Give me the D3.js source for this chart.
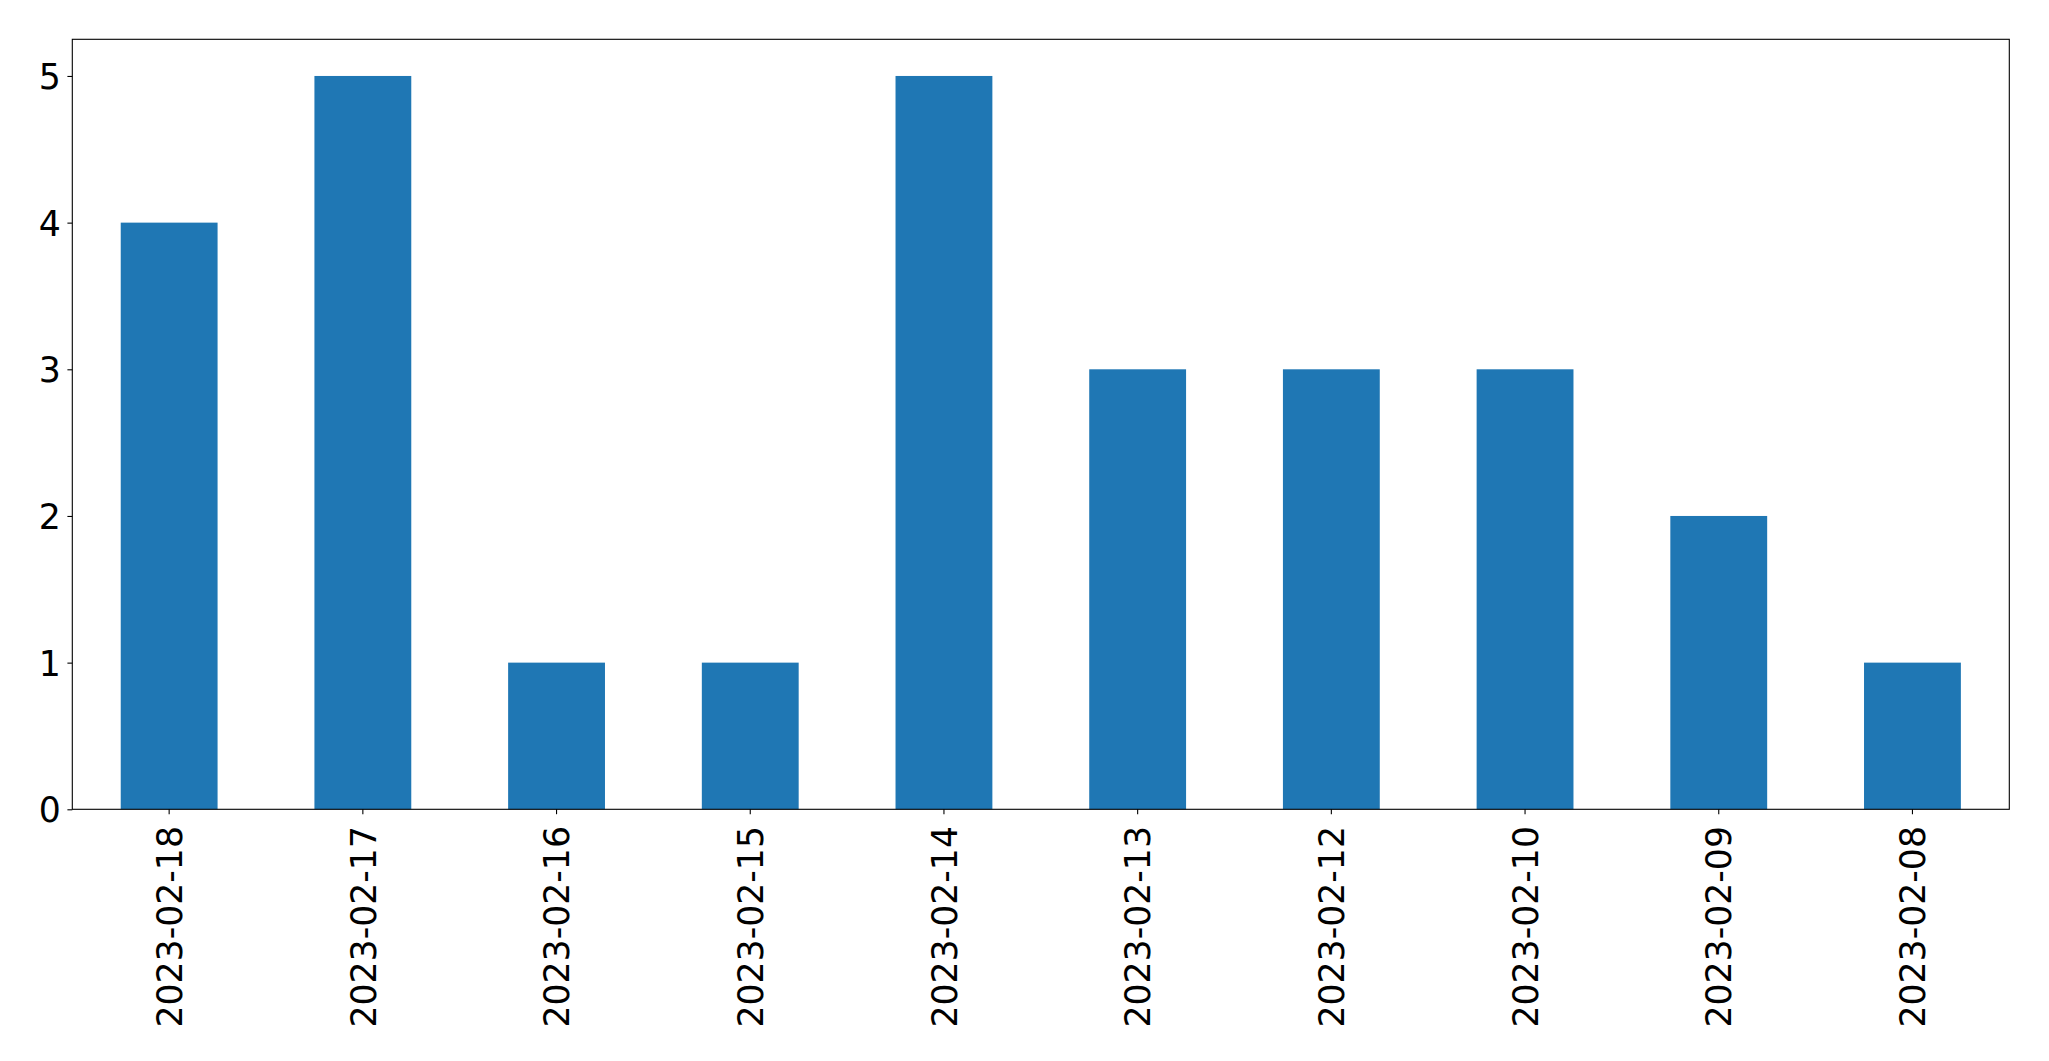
<!DOCTYPE html>
<html>
<head>
<meta charset="utf-8">
<script src="https://cdn.jsdelivr.net/npm/d3@7"></script>
<style>
  html, body { margin: 0; padding: 0; background: #fff; }
  svg { display: block; }
</style>
</head>
<body>
<svg id="chart" width="2049" height="1061"></svg>
<script>
const categories = ["2023-02-18","2023-02-17","2023-02-16","2023-02-15","2023-02-14","2023-02-13","2023-02-12","2023-02-10","2023-02-09","2023-02-08"];
const values = [4, 5, 1, 1, 5, 3, 3, 3, 2, 1];
const yTicks = [0, 1, 2, 3, 4, 5];

const W = 2049, H = 1061;
const m = { left: 72.3, top: 39.3, right: 2009.3, bottom: 809.3 };
const fontSize = 34.7;
const font = "'DejaVu Sans', sans-serif";

const svg = d3.select("#chart");
svg.append("rect").attr("width", W).attr("height", H).attr("fill", "#fff");

const x = d3.scaleBand().domain(categories).range([m.left, m.right])
  .paddingInner(0.5).paddingOuter(0.25);
const y = d3.scaleLinear().domain([0, 5.25]).range([m.bottom, m.top]);

svg.append("g").selectAll("rect").data(values).join("rect")
  .attr("x", (d, i) => x(categories[i]))
  .attr("width", x.bandwidth())
  .attr("y", d => y(d))
  .attr("height", d => y(0) - y(d))
  .attr("fill", "#1f77b4");

// spines
svg.append("rect")
  .attr("x", m.left).attr("y", m.top)
  .attr("width", m.right - m.left).attr("height", m.bottom - m.top)
  .attr("fill", "none").attr("stroke", "#000").attr("stroke-width", 1.1);

// y axis
const yAxis = svg.append("g").attr("transform", `translate(${m.left},0)`)
  .call(d3.axisLeft(y).tickValues(yTicks).tickFormat(d3.format("d")).tickSize(4.9).tickPadding(6.5));
yAxis.select(".domain").remove();
yAxis.selectAll(".tick line").attr("stroke", "#000").attr("stroke-width", 1.1);
yAxis.selectAll(".tick text")
  .attr("font-family", font).attr("font-size", fontSize).attr("fill", "#000")
  .attr("dy", "0.3645em");

// x axis
const xAxis = svg.append("g").attr("transform", `translate(0,${m.bottom})`)
  .call(d3.axisBottom(x).tickSize(4.9).tickSizeOuter(0));
xAxis.select(".domain").remove();
xAxis.selectAll(".tick line").attr("stroke", "#000").attr("stroke-width", 1.1);
xAxis.selectAll(".tick text")
  .attr("font-family", font).attr("font-size", fontSize).attr("fill", "#000")
  .attr("text-anchor", "end")
  .attr("x", 0).attr("y", 0)
  .attr("dy", "0.3645em")
  .attr("transform", `translate(0,${826 - m.bottom}) rotate(-90)`);
</script>
</body>
</html>
